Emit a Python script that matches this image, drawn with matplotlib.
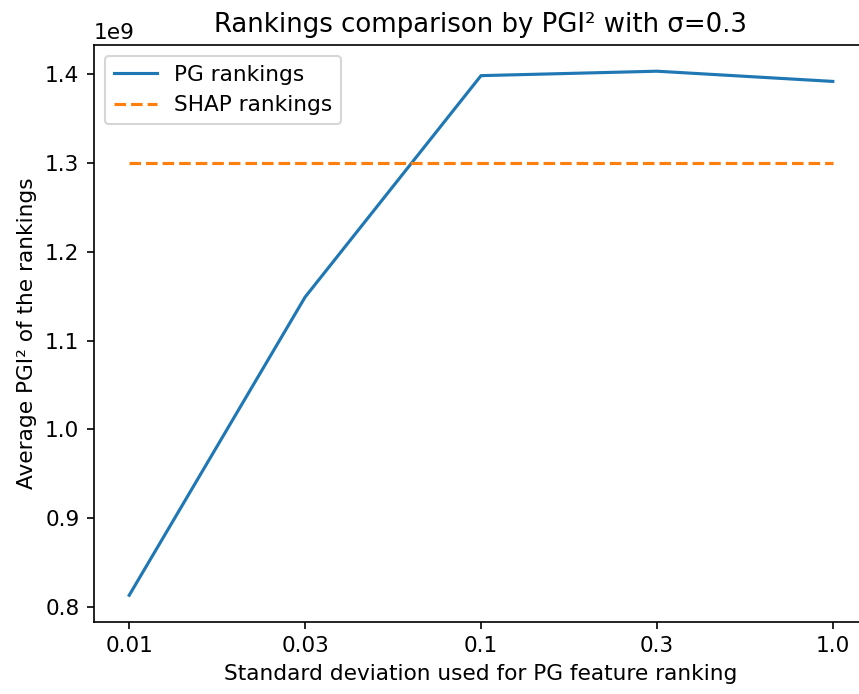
import matplotlib
matplotlib.use("Agg")
import matplotlib.pyplot as plt

categories = ["0.01", "0.03", "0.1", "0.3", "1.0"]
pg_rankings = [0.813e9, 1.149e9, 1.3985e9, 1.4035e9, 1.392e9]
shap_rankings = [1.3e9, 1.3e9, 1.3e9, 1.3e9, 1.3e9]

plt.rcParams["font.size"] = 10.4

fig = plt.figure(figsize=(859 / 150, 694 / 150), dpi=150)
ax = fig.add_axes([94 / 859, 1 - 621.5 / 694, (868 - 94) / 859, (621.5 - 45) / 694])

ax.plot(categories, pg_rankings, label="PG rankings")
ax.plot(categories, shap_rankings, linestyle="--", label="SHAP rankings")

ax.set_title("Rankings comparison by PGI² with σ=0.3")
ax.set_xlabel("Standard deviation used for PG feature ranking")
ax.set_ylabel("Average PGI² of the rankings")
ax.legend(loc="upper left")

fig.savefig("out.png", dpi=150)
